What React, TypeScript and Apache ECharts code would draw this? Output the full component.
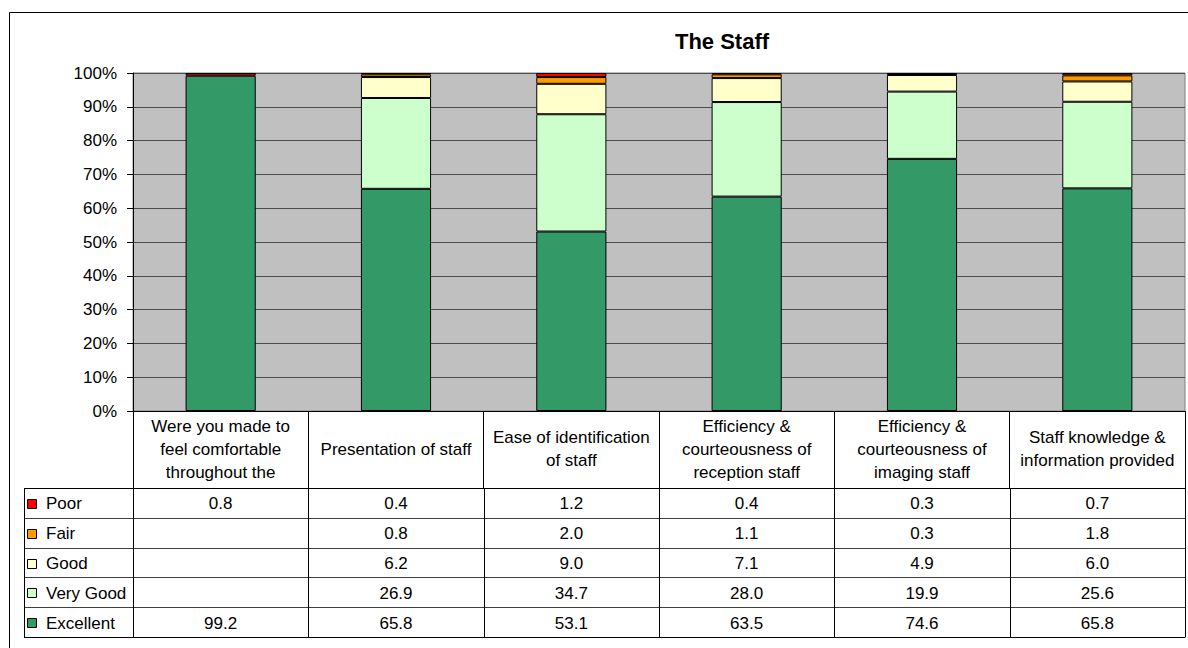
import React, { useEffect, useRef } from "react";
import * as echarts from "echarts";

const categories = [
  "Were you made to\nfeel comfortable\nthroughout the",
  "Presentation of staff",
  "Ease of identification\nof staff",
  "Efficiency &\ncourteousness of\nreception staff",
  "Efficiency &\ncourteousness of\nimaging staff",
  "Staff knowledge &\ninformation provided",
];
const poor: (number | null)[] = [0.8, 0.4, 1.2, 0.4, 0.3, 0.7];
const fair: (number | null)[] = [null, 0.8, 2.0, 1.1, 0.3, 1.8];
const good: (number | null)[] = [null, 6.2, 9.0, 7.1, 4.9, 6.0];
const veryGood: (number | null)[] = [null, 26.9, 34.7, 28.0, 19.9, 25.6];
const excellent: (number | null)[] = [99.2, 65.8, 53.1, 63.5, 74.6, 65.8];
const yTickValues = [0, 10, 20, 30, 40, 50, 60, 70, 80, 90, 100];

const seriesNames = ["Excellent", "Very Good", "Good", "Fair", "Poor"];
const seriesData = [excellent, veryGood, good, fair, poor];
const seriesColors = ["#339966", "#CCFFCC", "#FFFFCC", "#FF9900", "#FF0000"];

const FONT = "Liberation Sans, Arial, sans-serif";
const FS = 17;

export default function App() {
  const ref = useRef<HTMLDivElement>(null);
  useEffect(() => {
    if (!ref.current) return;
    const chart = echarts.init(ref.current, null, { renderer: "svg" });
    const totals = categories.map((_, j) =>
      seriesData.reduce((s, arr) => s + (arr[j] ?? 0), 0)
    );
    chart.setOption({
      animation: false,
      textStyle: { fontFamily: FONT },
      grid: {
        left: 133,
        top: 73,
        right: 3,
        bottom: 237,
        show: true,
        backgroundColor: "#C0C0C0",
        borderColor: "#808080",
        borderWidth: 1,
      },
      xAxis: {
        type: "category",
        data: categories,
        axisLine: { show: true, lineStyle: { color: "#000", width: 1 } },
        axisTick: {
          show: true,
          interval: 0,
          alignWithLabel: false,
          length: 77,
          lineStyle: { color: "#000", width: 1 },
        },
        axisLabel: {
          interval: 0,
          color: "#000",
          fontSize: FS,
          fontFamily: FONT,
          lineHeight: 23,
          margin: 38,
          verticalAlign: "middle",
          align: "center",
        },
      },
      yAxis: {
        type: "value",
        min: 0,
        max: 100,
        interval: 10,
        axisLine: { show: true, lineStyle: { color: "#000", width: 1 } },
        axisTick: { show: true, length: 6, lineStyle: { color: "#000" } },
        axisLabel: {
          color: "#000",
          fontSize: FS,
          fontFamily: FONT,
          margin: 16,
          formatter: (v: number) => (yTickValues.includes(v) ? v + "%" : ""),
        },
        splitLine: { show: true, lineStyle: { color: "#4D4D4D", width: 1.2 } },
      },
      series: seriesNames.map((name, i) => ({
        name,
        type: "bar",
        stack: "total",
        barWidth: "40%",
        silent: true,
        itemStyle: { color: seriesColors[i], borderColor: "#000", borderWidth: 1 },
        emphasis: { disabled: true },
        data: seriesData[i].map((v, j) => (v == null ? null : (v / totals[j]) * 100)),
      })),
    });

    const c0 = chart.convertToPixel({ xAxisIndex: 0 }, 0) as number;
    const c1 = chart.convertToPixel({ xAxisIndex: 0 }, 1) as number;
    const colW = c1 - c0;
    const axisY = chart.convertToPixel({ yAxisIndex: 0 }, 0) as number;
    const tableTop = Math.round(axisY + 77);
    const rowH = 29.8;
    const tableLeft = 24;
    const rows = [
      { name: "Poor", data: poor, color: seriesColors[4] },
      { name: "Fair", data: fair, color: seriesColors[3] },
      { name: "Good", data: good, color: seriesColors[2] },
      { name: "Very Good", data: veryGood, color: seriesColors[1] },
      { name: "Excellent", data: excellent, color: seriesColors[0] },
    ];
    const tableBottom = tableTop + rows.length * rowH;
    const boundaries = categories.map((_, j) => c0 - colW / 2 + j * colW);
    boundaries.push(c0 - colW / 2 + categories.length * colW);
    const right = boundaries[boundaries.length - 1];
    const px = (v: number) => Math.round(v) + 0.5;

    const elements: any[] = [];
    elements.push({
      type: "rect",
      shape: { x: 9.5, y: 12.5, width: 1200, height: 700 },
      style: { fill: "transparent", stroke: "#000", lineWidth: 1 },
      silent: true,
      z: -10,
    });
    elements.push({
      type: "text",
      x: 722,
      y: 41,
      style: {
        text: "The Staff",
        align: "center",
        verticalAlign: "middle",
        font: `bold 22px ${FONT}`,
        fill: "#000",
      },
    });
    for (let i = 0; i <= rows.length; i++) {
      const y = px(tableTop + i * rowH);
      const outer = i === 0 || i === rows.length;
      elements.push({
        type: "line",
        shape: { x1: tableLeft, y1: y, x2: right, y2: y },
        style: { stroke: outer ? "#000" : "#404040", lineWidth: 1 },
        silent: true,
      });
    }
    [tableLeft, ...boundaries].forEach((bx) => {
      const x = px(bx);
      elements.push({
        type: "line",
        shape: { x1: x, y1: tableTop, x2: x, y2: px(tableBottom) },
        style: { stroke: "#000", lineWidth: 1 },
        silent: true,
      });
    });
    rows.forEach((r, i) => {
      const cy = tableTop + (i + 0.5) * rowH;
      elements.push({
        type: "rect",
        shape: { x: 27.5, y: Math.round(cy - 4) + 0.5, width: 9, height: 9 },
        style: { fill: r.color, stroke: "#000", lineWidth: 1 },
        silent: true,
      });
      elements.push({
        type: "text",
        x: 46,
        y: cy + 1,
        style: {
          text: r.name,
          align: "left",
          verticalAlign: "middle",
          font: `${FS}px ${FONT}`,
          fill: "#000",
        },
      });
      r.data.forEach((v, j) => {
        if (v == null) return;
        elements.push({
          type: "text",
          x: c0 + j * colW,
          y: cy + 1,
          style: {
            text: v.toFixed(1),
            align: "center",
            verticalAlign: "middle",
            font: `${FS}px ${FONT}`,
            fill: "#000",
          },
        });
      });
    });
    chart.setOption({ graphic: { elements } });
    return () => chart.dispose();
  }, []);
  return (
    <div
      ref={ref}
      style={{ position: "fixed", left: 0, top: 0, width: 1188, height: 648, background: "#fff" }}
    />
  );
}
